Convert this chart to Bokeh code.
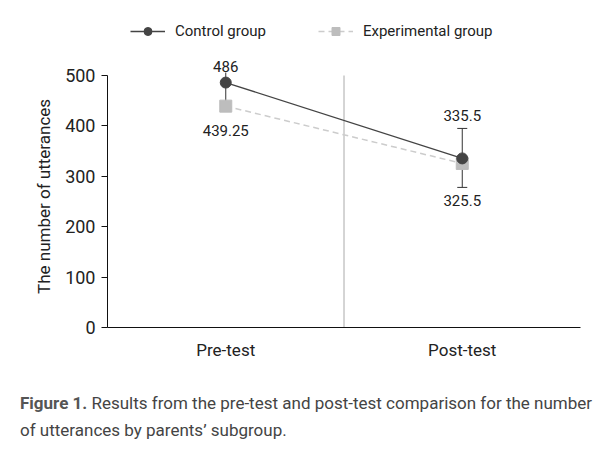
from bokeh.plotting import figure
from bokeh.layouts import column
from bokeh.models import (FactorRange, Range1d, Whisker, ColumnDataSource,
                          Legend, LegendItem, FixedTicker, Div)
from bokeh.core.properties import value
from bokeh.embed import file_html
from bokeh.resources import INLINE

categories = ["Pre-test", "Post-test"]
control = [486, 335.5]
experimental = [439.25, 325.5]
control_lower = [446, 278]
control_upper = [506, 395]
control_labels = ["486", "335.5"]
experimental_labels = ["439.25", "325.5"]
y_ticks = [0, 100, 200, 300, 400, 500]
y_max = 500
caption_bold = "Figure 1."
caption_text = ("Results from the pre-test and post-test comparison for the number<br>"
                "of utterances by parents\u2019 subgroup.")

FONT = "Roboto"

p = figure(width=613, height=370, x_range=FactorRange(*categories, range_padding=0),
           y_range=Range1d(0, 629), output_backend="svg", toolbar_location=None,
           min_border_left=107, min_border_right=33, min_border_top=10, min_border_bottom=43)
p.outline_line_color = None
p.grid.grid_line_color = None

p.yaxis.ticker = FixedTicker(ticks=y_ticks)
p.yaxis.bounds = (0, y_max)
# trailing no-break spaces keep the label centred on the 0-500 axis rather than the taller frame
p.yaxis.axis_label = "The number of utterances" + "\u00a0" * 13
p.yaxis.axis_label_text_font = FONT
p.yaxis.axis_label_text_font_style = "normal"
p.yaxis.axis_label_text_font_size = "17px"
p.yaxis.axis_label_text_color = "#222222"
p.yaxis.major_label_text_font = FONT
p.yaxis.major_label_text_font_size = "18px"
p.yaxis.major_label_text_color = "#222222"
p.yaxis.minor_tick_line_color = None
p.yaxis.major_tick_out = 6
p.yaxis.major_tick_in = 0
p.yaxis.axis_line_color = "#111111"
p.yaxis.major_tick_line_color = "#111111"
p.yaxis.major_label_standoff = 6
p.yaxis.axis_label_standoff = 8

p.xaxis.major_tick_line_color = None
p.xaxis.minor_tick_line_color = None
p.xaxis.axis_line_color = "#111111"
p.xaxis.major_label_text_font = FONT
p.xaxis.major_label_text_font_size = "17px"
p.xaxis.major_label_text_color = "#222222"
p.xaxis.major_label_standoff = 6

# separator between the two test phases, spanning the axis range
p.segment(x0=[(categories[0], 0.5)], x1=[(categories[0], 0.5)], y0=[0], y1=[y_max],
          line_color="#aaaaaa", line_width=1)

src_c = ColumnDataSource(dict(x=categories, y=control, lab=control_labels, off=[-16, -43]))
src_e = ColumnDataSource(dict(x=categories, y=experimental, lab=experimental_labels,
                              off=[24, 37]))
src_pre = ColumnDataSource(dict(x=categories[:1], lo=control_lower[:1], hi=control_upper[:1]))
src_post = ColumnDataSource(dict(x=categories[1:], lo=control_lower[1:], hi=control_upper[1:]))

w_pre = Whisker(source=src_pre, base="x", lower="lo", upper="hi", line_color="#333333",
                line_width=1, level="underlay", upper_head=None, lower_head=None)
p.add_layout(w_pre)
w = Whisker(source=src_post, base="x", lower="lo", upper="hi", line_color="#333333",
            line_width=1, level="underlay")
w.upper_head.size = 10
w.lower_head.size = 10
w.upper_head.line_color = "#333333"
w.lower_head.line_color = "#333333"
p.add_layout(w)

le = p.line("x", "y", source=src_e, line_color="#cccccc", line_width=1.5, line_dash="6 4")
lc = p.line("x", "y", source=src_c, line_color="#444444", line_width=1.3)
ce = p.scatter("x", "y", source=src_e, marker="square", size=12, fill_color="#bdbdbd",
               line_color="#bdbdbd")
cc = p.scatter("x", "y", source=src_c, marker="circle", size=11, fill_color="#444444",
               line_color="#444444")

p.text("x", "y", text="lab", source=src_c, y_offset="off", text_align="center",
       text_baseline="middle", text_font=value(FONT), text_font_size="15px",
       text_color="#222222")
p.text("x", "y", text="lab", source=src_e, y_offset="off", text_align="center",
       text_baseline="middle", text_font=value(FONT), text_font_size="15px",
       text_color="#222222")

legend = Legend(items=[LegendItem(label="Control group", renderers=[lc, cc]),
                       LegendItem(label="Experimental group", renderers=[le, ce])],
                orientation="horizontal", location=(23, 286), glyph_width=35, spacing=52,
                label_standoff=10, padding=5, margin=0,
                label_text_font=FONT, label_text_font_size="15px",
                label_text_color="#222222", border_line_color=None,
                background_fill_alpha=0)
p.add_layout(legend)

cap = Div(text=f'<span style="font-weight:bold;color:#555555">{caption_bold}</span> '
               f'<span style="color:#444444">{caption_text}</span>',
          width=595, margin=(20, 0, 0, 20),
          styles={"font-family": FONT, "font-size": "17px", "line-height": "27px",
                  "white-space": "nowrap"})

layout = column(p, cap, spacing=0)
open("out.html", "w").write(file_html(layout, INLINE))
